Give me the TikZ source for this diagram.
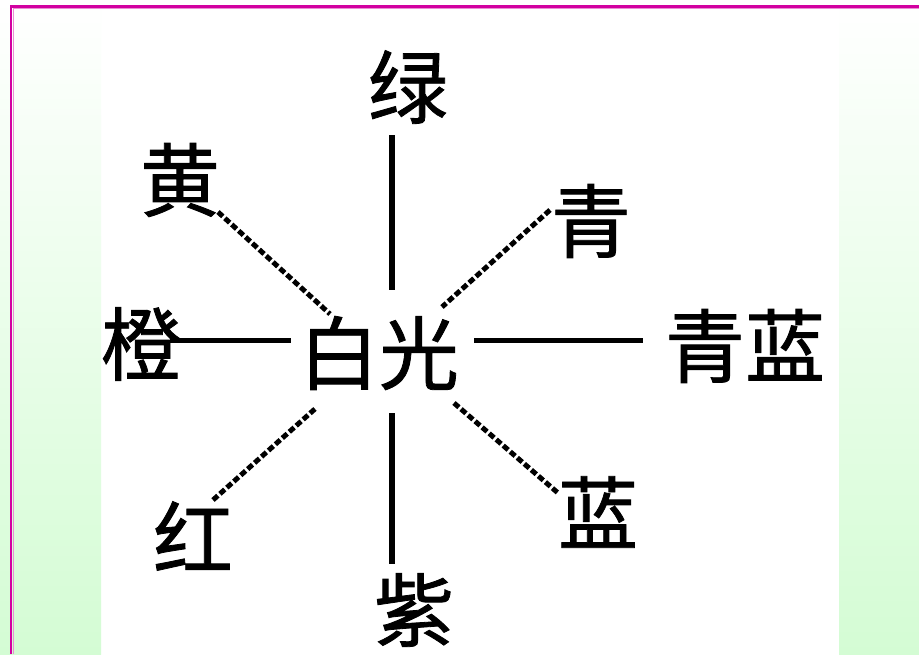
\documentclass[tikz,border=0pt]{standalone}
\usepackage{fontspec}
\newfontfamily\cjk[FakeBold=1]{Noto Sans CJK SC}
\definecolor{bgGreen}{RGB}{212,252,212}
\definecolor{frameMagenta}{RGB}{210,0,160}
\tikzset{
  lbl/.style={inner sep=0pt, outer sep=0pt, font=\cjk\fontsize{80}{80}\selectfont, text=black},
  straightray/.style={line width=5.5pt, black},
  diagray/.style={line width=5pt, black, dash pattern=on 6.5pt off 2.8pt},
}
\begin{document}
\begin{tikzpicture}[x=1pt,y=-1pt]
\useasboundingbox (0,0) rectangle (919,654);
% background
\fill[white] (0,0) rectangle (919,654);
\shade[top color=white, bottom color=bgGreen] (0,0) rectangle (101,654);
\shade[top color=white, bottom color=bgGreen] (839,0) rectangle (919,654);
% frame
\draw[frameMagenta!45, line width=1pt] (13.2,654) -- (13.2,8.4) -- (919,8.4);
\draw[frameMagenta, line width=2.8pt] (11,654) -- (11,6.2) -- (919,6.2);
% labels
\node[lbl] (lv)  at (408,87)  {绿};
\node[lbl] (huang) at (180,180) {黄};
\node[lbl] (qing) at (591,221) {青};
\node[lbl] (cheng) at (141,344) {橙};
\node[lbl] (bg)  at (379,353) {白光};
\node[lbl] (qlan) at (745,346) {青蓝};
\node[lbl] (hong) at (193,536) {红};
\node[lbl] (lan) at (598,512) {蓝};
\node[lbl] (zi)  at (414,610) {紫};
% ray end points
\coordinate (lvA) at (392,135);   \coordinate (lvB) at (392,290);
\coordinate (ziA) at (392,413);   \coordinate (ziB) at (392,564);
\coordinate (chA) at (170,340.5); \coordinate (chB) at (291,340.5);
\coordinate (qlA) at (474,340.5); \coordinate (qlB) at (643,340.5);
\coordinate (huA) at (218,212);   \coordinate (huB) at (330,314);
\coordinate (qiA) at (550,210);   \coordinate (qiB) at (442,307);
\coordinate (hoA) at (213,500);   \coordinate (hoB) at (316,408);
\coordinate (laA) at (454,403);   \coordinate (laB) at (558,493);
% rays
\draw[straightray] (lvA) -- (lvB);
\draw[straightray] (ziA) -- (ziB);
\draw[straightray] (chA) -- (chB);
\draw[straightray] (qlA) -- (qlB);
\draw[diagray] (huA) -- (huB);
\draw[diagray] (qiA) -- (qiB);
\draw[diagray] (hoA) -- (hoB);
\draw[diagray] (laA) -- (laB);
\end{tikzpicture}
\end{document}
